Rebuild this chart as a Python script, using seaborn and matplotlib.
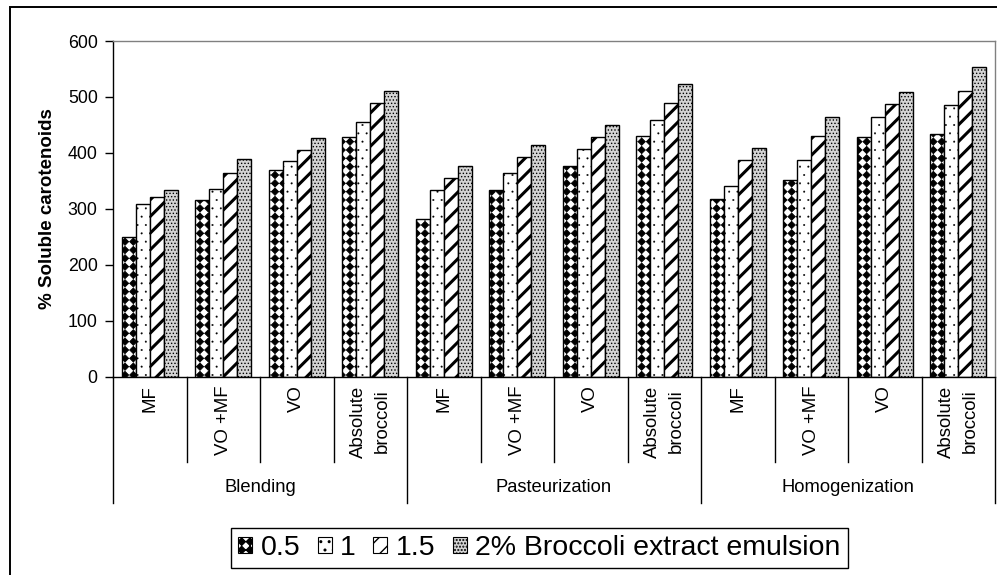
import numpy as np
import pandas as pd
import matplotlib
matplotlib.use("Agg")
import matplotlib.pyplot as plt
import matplotlib.hatch as mhatch
from matplotlib.path import Path
from matplotlib.patches import Patch, Rectangle
import seaborn as sns

# ---------------- data ----------------
processes = ["Blending", "Pasteurization", "Homogenization"]
treatments = ["MF", "VO +MF", "VO", "Absolute\nbroccoli"]
concentrations = ["0.5", "1", "1.5", "2% Broccoli extract emulsion"]

conc_05 = [250, 315, 370, 428, 281, 333, 376, 431, 318, 351, 428, 434]
conc_1 = [309, 336, 385, 456, 333, 364, 407, 459, 340, 388, 465, 486]
conc_15 = [321, 364, 406, 490, 355, 392, 428, 490, 388, 431, 487, 511]
conc_2 = [333, 389, 426, 511, 376, 415, 449, 523, 409, 465, 508, 554]

y_ticks = [0, 100, 200, 300, 400, 500, 600]
y_label = "% Soluble carotenoids"


# ------------- custom diamond hatch (replaces the 'O' pattern) -------------
class DiamondHatch(mhatch.HatchPatternBase):
    def __init__(self, hatch, density):
        self.n = int(hatch.count("O") * density)
        self.num_vertices = (self.n + 1) ** 2 * 5 if self.n else 0

    def set_vertices_and_codes(self, vertices, codes):
        n = self.n
        step = 1.0 / n
        h = step * 0.44
        base = np.array([[0, -h], [h, 0], [0, h], [-h, 0], [0, -h]])
        bcodes = [Path.MOVETO, Path.LINETO, Path.LINETO, Path.LINETO, Path.CLOSEPOLY]
        vparts, cparts = [], []
        for r in range(n + 1):
            for c in range(n + 1):
                vparts.append(base + [c * step, r * step])
                cparts.append(bcodes)
        np.concatenate(vparts, out=vertices)
        np.concatenate(cparts, out=codes)


mhatch._hatch_types = [DiamondHatch if t is mhatch.LargeCircles else t
                       for t in mhatch._hatch_types]

# ---------------- style ----------------
plt.rcParams["font.family"] = ["Liberation Sans", "DejaVu Sans"]
plt.rcParams["hatch.linewidth"] = 1.0

keys = [f"{p}|{t}" for p in processes for t in treatments]
series = [conc_05, conc_1, conc_15, conc_2]
rows = []
for conc, vals in zip(concentrations, series):
    for k, v in zip(keys, vals):
        rows.append({"key": k, "conc": conc, "value": v})
df = pd.DataFrame(rows)

fig = plt.figure(figsize=(9.97, 5.75), dpi=100)
ax = fig.add_axes([113 / 997, 1 - 376.7 / 575, (995 - 113) / 997, (376.7 - 41) / 575])

sns.barplot(data=df, x="key", y="value", hue="conc", order=keys,
            hue_order=concentrations,
            palette={c: "white" for c in concentrations},
            edgecolor="black", linewidth=1, width=0.76, saturation=1,
            errorbar=None, legend=False, ax=ax)

hatches = ["OO", "..", "//", "....."]
faces = ["white", "white", "white", "#d4d4d4"]
hlws = [0.6, 0.2, 2.2, 0.6]


def style_patch(p, h, fc, hlw):
    p.set_hatch(h)
    p.set_facecolor(fc)
    p.set_edgecolor("black")
    if hasattr(p, "set_hatch_linewidth"):
        p.set_hatch_linewidth(hlw)


for cont, h, fc, hlw in zip(ax.containers, hatches, faces, hlws):
    for bar in cont:
        style_patch(bar, h, fc, hlw)

ax.set_xlim(-0.5, len(keys) - 0.5)
ax.set_ylim(0, 600)
ax.set_yticks(y_ticks)
ax.set_xticks([])
ax.set_xlabel("")
ax.tick_params(axis="y", direction="out", length=6, width=1, pad=5,
               labelsize=12.8, colors="black")
ax.set_ylabel(y_label, fontsize=13.5, fontweight="bold")
ax.yaxis.set_label_coords(-0.065, 0.5)

for s in ["top", "right"]:
    ax.spines[s].set_color("#808080")
    ax.spines[s].set_linewidth(1)
for s in ["left", "bottom"]:
    ax.spines[s].set_color("black")
    ax.spines[s].set_linewidth(1)

trans = ax.get_xaxis_transform()
for i, b in enumerate(np.arange(-0.5, len(keys), 1.0)):
    outer = (i % 4 == 0)
    ax.plot([b, b], [0, -0.375 if outer else -0.253], transform=trans,
            color="black", lw=1, clip_on=False)

for i, k in enumerate(keys):
    ax.text(i, -0.026, treatments[i % 4], transform=trans, rotation=90,
            ha="center", va="top", fontsize=13.4, multialignment="center",
            linespacing=1.5)

for j, p in enumerate(processes):
    ax.text(4 * j + 1.5, -0.305, p, transform=trans, ha="center", va="top",
            fontsize=13.2)

# figure border
fig.patches.append(Rectangle((10 / 997, -0.5), 2, (1 - 7 / 575) + 0.5,
                             transform=fig.transFigure, fill=False,
                             edgecolor="black", lw=1.4))

handles = []
for h, fc, hlw in zip(hatches, faces, hlws):
    hp = Patch(facecolor=fc, edgecolor="black", hatch=h, lw=0.8)
    if hasattr(hp, "set_hatch_linewidth"):
        hp.set_hatch_linewidth(hlw)
    handles.append(hp)

leg = fig.legend(handles, concentrations, loc="center",
                 bbox_to_anchor=(0.541, 0.047), ncol=4, fontsize=20.5,
                 frameon=True, fancybox=False, edgecolor="black",
                 handlelength=0.5, handleheight=0.5, handletextpad=0.3,
                 columnspacing=0.6, borderpad=0.25, framealpha=1)
leg.get_frame().set_linewidth(1)

fig.savefig("out.png", dpi=100)
